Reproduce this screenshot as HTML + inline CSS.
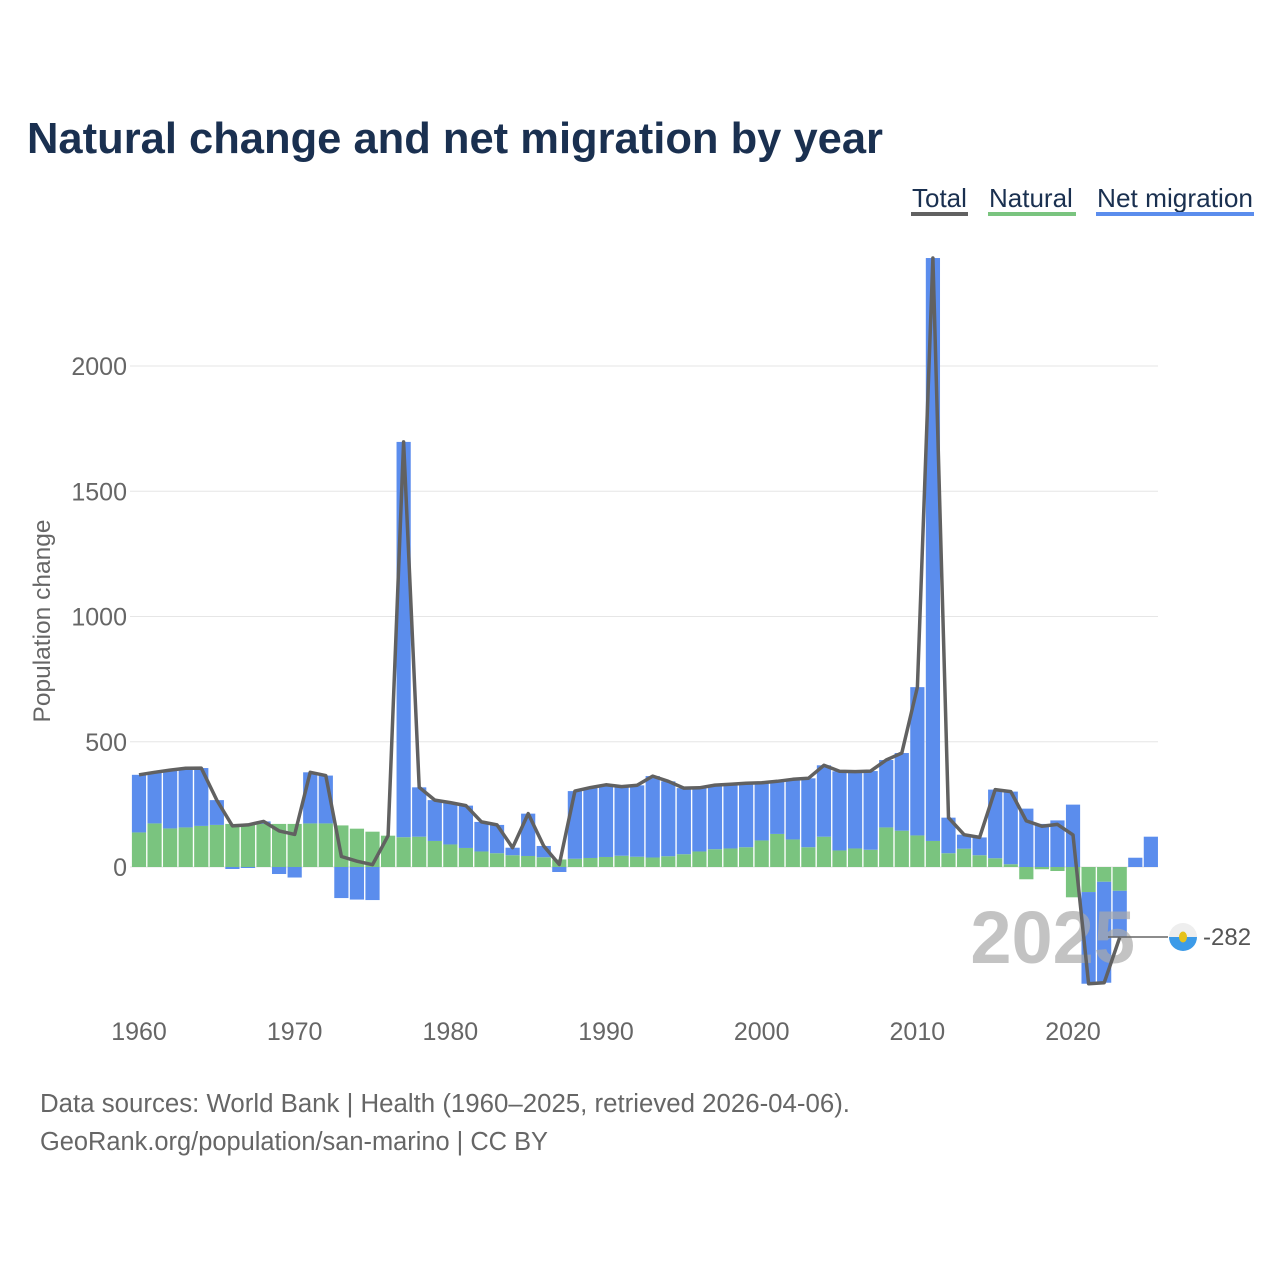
<!DOCTYPE html>
<html><head><meta charset="utf-8"><style>
html,body{margin:0;padding:0;background:#fff;width:1280px;height:1280px;overflow:hidden}
svg{display:block;font-family:"Liberation Sans",sans-serif}
</style></head><body>
<svg id="chart" width="1280" height="1280" viewBox="0 0 1280 1280">
<text x="27" y="153" font-size="43.5" font-weight="bold" fill="#1a3050" textLength="856" lengthAdjust="spacingAndGlyphs">Natural change and net migration by year</text>
<g>
<g><text x="912" y="207" font-size="26" fill="#1a3050">Total</text><rect x="911" y="212" width="57" height="4" fill="#616161"/></g>
<g><text x="989" y="207" font-size="26" fill="#1a3050">Natural</text><rect x="988" y="212" width="88" height="4" fill="#7ac47f"/></g>
<g><text x="1097" y="207" font-size="26" fill="#1a3050" textLength="156" lengthAdjust="spacingAndGlyphs">Net migration</text><rect x="1096" y="212" width="158" height="4" fill="#5b8ded"/></g>
</g>
<text transform="translate(50,621) rotate(-90)" text-anchor="middle" font-size="24.5" fill="#666">Population change</text>
<g id="grid"></g>
<g id="bars"></g>
<text x="1135" y="963" text-anchor="end" font-size="74" font-weight="bold" fill="#aaa" fill-opacity="0.7">2025</text>
<g id="line"></g>
<g>
<line x1="1108" y1="937" x2="1168" y2="937" stroke="#666" stroke-width="1.5"/>
<circle cx="1183" cy="937" r="14" fill="#eee"/>
<path d="M1169,937 A14,14 0 0 0 1197,937 Z" fill="#3c9be8"/>
<ellipse cx="1183" cy="937" rx="4" ry="5.5" fill="#e6c21a"/>
<text x="1203" y="945" font-size="24" fill="#555">-282</text>
</g>
<text x="40" y="1112" font-size="25.5" fill="#666" textLength="810" lengthAdjust="spacingAndGlyphs">Data sources: World Bank | Health (1960–2025, retrieved 2026-04-06).</text>
<text x="40" y="1150" font-size="25.5" fill="#666" textLength="508" lengthAdjust="spacingAndGlyphs">GeoRank.org/population/san-marino | CC BY</text>
</svg>
<script>
const years=[];for(let y=1960;y<=2025;y++)years.push(y);
const natural=[138,174,154,158,164,168,172,172,172,172,172,174,174,166,153,141,125,119,121,104,90,76,62,55,47,44,39,30,33,36,40,45,41,38,43,51,62,71,74,79,106,132,110,79,121,66,74,69,158,145,126,104,55,73,47,35,11,-49,-9,-16,-121,-100,-59,-95,null,null];
const total=[368,378,387,394,395,267,164,168,182,144,130,378,365,42,23,9,125,1697,318,267,257,245,180,168,77,213,84,10,303,317,328,321,326,363,342,315,316,327,330,334,336,342,350,354,406,382,381,383,427,455,718,2431,197,129,118,309,301,184,163,170,128,-466,-462,-282,null,null];
const migration=[230,204,233,236,231,99,-8,-4,10,-28,-42,204,191,-124,-130,-132,0,1578,197,163,167,169,118,113,30,169,45,-20,270,281,288,276,285,325,299,264,254,256,256,255,230,210,240,275,285,316,307,314,269,310,592,2327,142,56,71,274,290,233,172,186,249,-366,-403,-187,37,121];
const yTicks=[0,500,1000,1500,2000];
const xTicks=[1960,1970,1980,1990,2000,2010,2020];
const NS='http://www.w3.org/2000/svg';
const xs=y=>139+(y-1960)*15.567;
const ys=v=>867-v*0.2505;
function mk(t,a,p){const e=document.createElementNS(NS,t);for(const k in a)e.setAttribute(k,a[k]);p.appendChild(e);return e;}
const grid=document.getElementById('grid');
yTicks.forEach(v=>{
 const l=mk('line',{x1:130,x2:1158,y1:ys(v),y2:ys(v),stroke:'#e6e6e6','stroke-width':1},grid);
 
 
 const t=mk('text',{x:127,y:ys(v)+9,'text-anchor':'end','font-size':25,fill:'#666'},grid);
 t.textContent=v;
 
 
});
xTicks.forEach(v=>{
 const t=mk('text',{x:xs(v),y:1040,'text-anchor':'middle','font-size':25,fill:'#666'},grid);
 t.textContent=v;
 
 
});
const bars=document.getElementById('bars');
const bw=14.2;
years.forEach((yr,i)=>{
 let pos=0,neg=0;
 const parts=[[natural[i],'#7ac47f','natural'],[migration[i],'#5b8ded','migration']];
 parts.forEach(([v,c,n])=>{
  if(v==null||v===0)return;
  let y0,y1;
  if(v>0){y0=pos;y1=pos+v;pos=y1;}else{y0=neg;y1=neg+v;neg=y1;}
  const top=Math.min(ys(y0),ys(y1)),h=Math.abs(ys(y1)-ys(y0));
  const r=mk('rect',{x:xs(yr)-bw/2,y:top,width:bw,height:h,fill:c},bars);
  
  
 });
});
const lg=document.getElementById('line');
let d='';
years.forEach((yr,i)=>{if(total[i]==null)return;d+=(d?'L':'M')+xs(yr).toFixed(1)+','+ys(total[i]).toFixed(1);});
const p=mk('path',{d:d,fill:'none',stroke:'#616161','stroke-width':3.5,'stroke-linejoin':'round'},lg);


</script>
</body></html>
